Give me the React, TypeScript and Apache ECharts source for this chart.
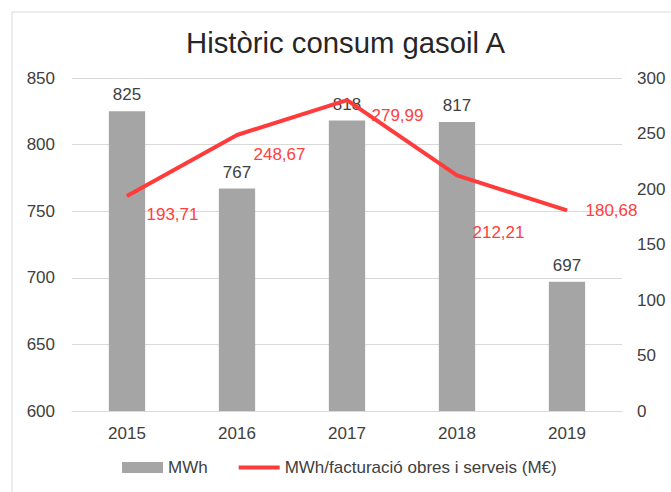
import React, { useEffect, useRef } from "react";
import * as echarts from "echarts";

const years = ["2015", "2016", "2017", "2018", "2019"];
const mwh = [825, 767, 818, 817, 697];
const ratio = [193.71, 248.67, 279.99, 212.21, 180.68];
const leftTicks = { min: 600, max: 850, interval: 50 };
const rightTicks = { min: 0, max: 300, interval: 50 };

const FONT = "Liberation Sans";
const ratioLabelShift = [
  [19, 19],
  [16, 20],
  [24, 15],
  [15, 57],
  [18, 0],
];

const fmt = (v: number) => v.toFixed(2).replace(".", ",");

export default function App() {
  const ref = useRef<HTMLDivElement>(null);
  useEffect(() => {
    if (!ref.current) return;
    const chart = echarts.init(ref.current, null, { renderer: "svg" });
    chart.setOption({
      animation: false,
      backgroundColor: "#ffffff",
      textStyle: { fontFamily: FONT },
      graphic: [
        {
          type: "rect",
          shape: { x: 12, y: 12, width: 700, height: 520 },
          style: { fill: "none", stroke: "#d9d9d9", lineWidth: 1 },
          silent: true,
        },
      ],
      title: {
        text: "Històric consum gasoil A",
        left: 186,
        top: 28,
        padding: 0,
        textStyle: { fontFamily: FONT, fontSize: 29.3, fontWeight: "normal", color: "#262626" },
      },
      legend: {
        bottom: 16,
        left: 122,
        padding: 0,
        itemWidth: 41,
        itemHeight: 11,
        itemGap: 31,
        textStyle: { fontFamily: FONT, fontSize: 17, color: "#404040" },
        data: [
          { name: "MWh", icon: "rect" },
          { name: "MWh/facturació obres i serveis (M€)", icon: "path://M0,0 L42,0 L42,4 L0,4 Z" },
        ],
      },
      grid: { left: 72, right: 49, top: 78, bottom: 81 },
      xAxis: {
        type: "category",
        data: years,
        axisLine: { show: true, lineStyle: { color: "#d9d9d9" } },
        axisTick: { show: false },
        axisLabel: { fontFamily: FONT, fontSize: 17, color: "#404040", margin: 14 },
      },
      yAxis: [
        {
          type: "value",
          ...leftTicks,
          axisLine: { show: false },
          axisTick: { show: false },
          splitLine: { lineStyle: { color: "#d9d9d9" } },
          axisLabel: { fontFamily: FONT, fontSize: 17, color: "#404040", margin: 17 },
        },
        {
          type: "value",
          ...rightTicks,
          axisLine: { show: false },
          axisTick: { show: false },
          splitLine: { show: false },
          axisLabel: { fontFamily: FONT, fontSize: 17, color: "#404040", margin: 15 },
        },
      ],
      series: [
        {
          name: "MWh",
          type: "bar",
          data: mwh,
          barWidth: "33%",
          itemStyle: { color: "#a5a5a5" },
          label: {
            show: true,
            position: "top",
            distance: 8,
            fontFamily: FONT,
            fontSize: 17,
            color: "#404040",
          },
        },
        {
          name: "MWh/facturació obres i serveis (M€)",
          type: "line",
          yAxisIndex: 1,
          data: ratio,
          symbol: "circle",
          symbolSize: 1,
          showSymbol: true,
          lineStyle: { color: "#ff3b3b", width: 4 },
          itemStyle: { color: "#ff3b3b" },
          z: 5,
          label: {
            show: true,
            position: "right",
            distance: 0,
            fontFamily: FONT,
            fontSize: 17,
            color: "#ff4040",
            formatter: (p: any) => fmt(p.value),
          },
          labelLayout: (p: any) => {
            const s = ratioLabelShift[p.dataIndex];
            return { dx: s[0], dy: s[1] };
          },
        },
      ],
    });
    return () => chart.dispose();
  }, []);
  return (
    <div
      ref={ref}
      style={{ position: "fixed", left: 0, top: 0, width: 671, height: 492 }}
    />
  );
}
